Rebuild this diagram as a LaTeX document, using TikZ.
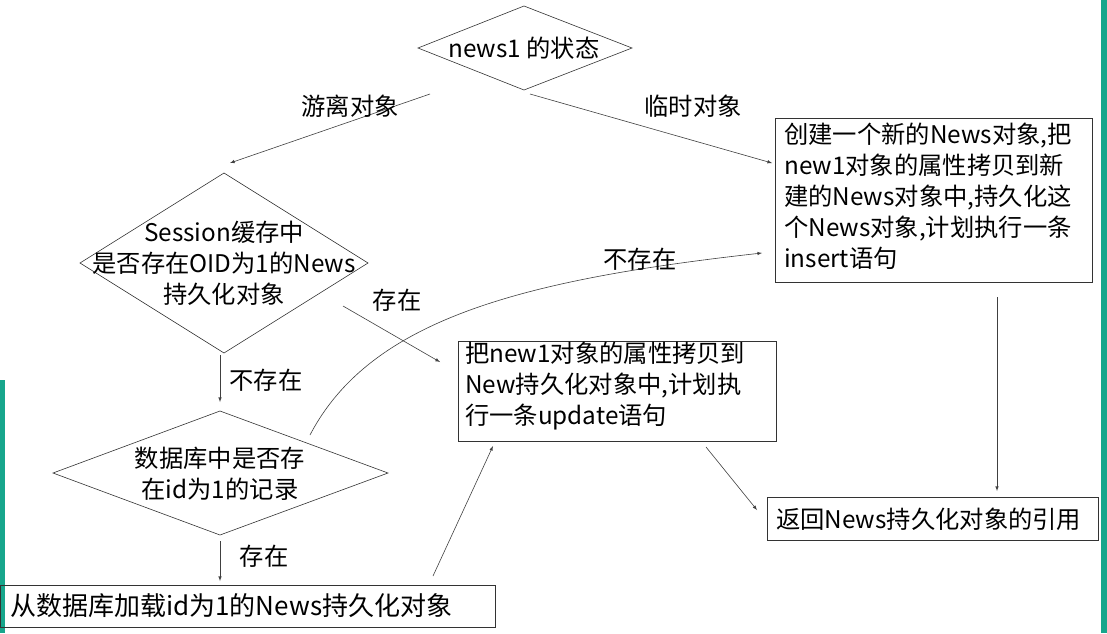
\documentclass[tikz,border=0pt]{standalone}
\usepackage{fontspec}
\setmainfont{Noto Sans CJK SC}
\definecolor{strip}{HTML}{17A68C}
\begin{document}
\begin{tikzpicture}[x=1pt,y=-1pt,
  txt/.style={font=\fontsize{24.3}{31}\selectfont, inner sep=0pt},
  box/.style={draw=black!80, line width=0.6pt},
  arr/.style={draw=black!75, line width=0.6pt, -latex}]
\useasboundingbox (0,0) rectangle (1107,633);
\fill[white] (0,0) rectangle (1107,633);
\fill[strip] (1101,0) rectangle (1107,633);
\fill[strip] (0,380) rectangle (5,633);
% diamonds
\draw[box] (418,48) -- (524,6) -- (632,48) -- (524,90) -- cycle;
\node[txt] (d1) at (524,48) {news1 的状态};
\draw[box] (80,263) -- (224,173) -- (368,263) -- (224,353) -- cycle;
\node[txt,align=center] (d2) at (224,263) {Session缓存中\\是否存在OID为1的News\\持久化对象};
\draw[box] (53,473) -- (220,411) -- (388,473) -- (220,535) -- cycle;
\node[txt,align=center] (d3) at (220,474) {数据库中是否存\\在id为1的记录};
% boxes
\draw[box] (775,118) rectangle (1092,282);
\node[txt,align=left,anchor=north west] (b1) at (784,123) {创建一个新的News对象,把\\new1对象的属性拷贝到新\\建的News对象中,持久化这\\个News对象,计划执行一条\\insert语句};
\draw[box] (458,341) rectangle (776,441);
\node[txt,align=left,anchor=north west] (b2) at (465,342) {把new1对象的属性拷贝到\\New持久化对象中,计划执\\行一条update语句};
\draw[box] (767,497) rectangle (1098,540);
\node[txt,anchor=west] (b3) at (776,519) {返回News持久化对象的引用};
\draw[box] (0,585) rectangle (495,627);
\node[txt,anchor=west,font=\fontsize{26}{31}\selectfont] (b4) at (10,606) {从数据库加载id为1的News持久化对象};
% connector coordinates
\coordinate (p1) at (430,94); \coordinate (q1) at (230,163);
\coordinate (p2) at (530,94); \coordinate (q2) at (772,163);
\coordinate (p3) at (220,355); \coordinate (q3) at (220,402);
\coordinate (p4) at (343,306); \coordinate (q4) at (440,362);
\coordinate (p5) at (310,435); \coordinate (q5) at (762,253);
\coordinate (p6) at (220,541); \coordinate (q6) at (220,581);
\coordinate (p7) at (433,576); \coordinate (q7) at (493,446);
\coordinate (p8) at (997,297); \coordinate (q8) at (997,491);
\coordinate (p9) at (706,447); \coordinate (q9) at (757,510);
\draw[arr] (p1) -- (q1);
\draw[arr] (p2) -- (q2);
\draw[arr] (p3) -- (q3);
\draw[arr] (p4) -- (q4);
\draw[arr] (p5) .. controls (370,320) and (520,280) .. (q5);
\draw[arr] (p6) -- (q6);
\draw[arr] (p7) -- (q7);
\draw[arr] (p8) -- (q8);
\draw[arr] (p9) -- (q9);
% labels
\node[txt] (l1) at (350,106) {游离对象};
\node[txt] (l2) at (693,106) {临时对象};
\node[txt] (l3) at (266,380) {不存在};
\node[txt] (l4) at (397,300) {存在};
\node[txt] (l5) at (640,259) {不存在};
\node[txt] (l6) at (264,556) {存在};
\end{tikzpicture}
\end{document}
